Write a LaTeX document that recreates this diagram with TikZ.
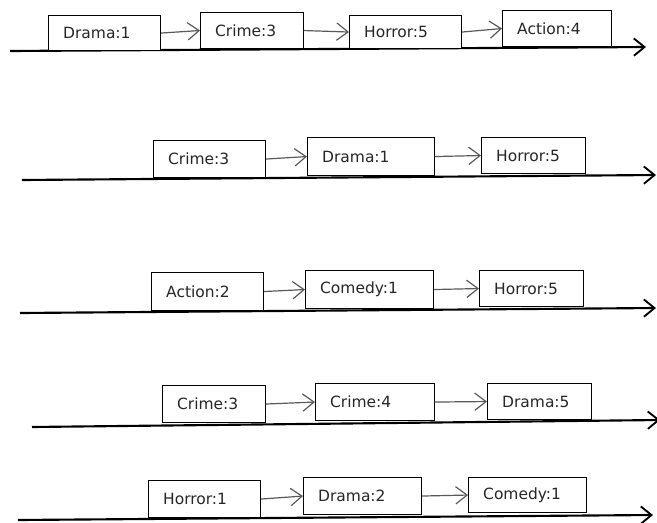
\documentclass[tikz,border=0pt]{standalone}
\usepackage{fontspec}
\setmainfont{DejaVu Sans}
\usetikzlibrary{arrows.meta}
\begin{document}
\begin{tikzpicture}[x=0.75pt,y=-0.75pt,
  box/.style={draw=black, line width=0.8pt, fill=white, anchor=north west, align=left,
    inner xsep=11pt, inner ysep=0pt, font=\fontsize{11.6}{12}\selectfont, text=black!85},
  link/.style={draw=black!65, line width=0.9pt, -{Straight Barb[length=8.5pt,width=13pt,line width=0.9pt]}},
  axis/.style={draw=black, line width=1.6pt, -{Straight Barb[length=8pt,width=13pt,line width=1.4pt]}}]
\useasboundingbox (0,0) rectangle (657,522);
% row 1
\coordinate (s1) at (10,51); \coordinate (e1) at (646,47);
\draw[axis] (s1) -- (e1);
\node[box, text width=62pt, minimum height=26.25pt] (a1) at (48,15) {Drama:1};
\node[box, text width=55pt, minimum height=27pt] (a2) at (200,12) {Crime:3};
\node[box, text width=62pt, minimum height=24.75pt] (a3) at (349,15) {Horror:5};
\node[box, text width=60pt, minimum height=27pt] (a4) at (502,10) {Action:4};
\draw[link] (a1.east) -- (a2.west);
\draw[link] (a2.east) -- (a3.west);
\draw[link] (a3.east) -- (a4.west);
% row 2
\coordinate (s2) at (22,180); \coordinate (e2) at (656,175);
\draw[axis] (s2) -- (e2);
\node[box, text width=62pt, minimum height=27.75pt] (b1) at (153,140) {Crime:3};
\node[box, text width=73pt, minimum height=28.5pt] (b2) at (307,137) {Drama:1};
\node[box, text width=56pt, minimum height=27pt] (b3) at (481,137) {Horror:5};
\draw[link] (b1.east) -- (b2.west);
\draw[link] (b2.east) -- (b3.west);
% row 3
\coordinate (s3) at (20,313); \coordinate (e3) at (656,308);
\draw[axis] (s3) -- (e3);
\node[box, text width=62pt, minimum height=28.5pt] (c1) at (151,272) {Action:2};
\node[box, text width=74pt, minimum height=28.5pt] (c2) at (305,270) {Comedy:1};
\node[box, text width=56pt, minimum height=27pt] (c3) at (479,270) {Horror:5};
\draw[link] (c1.east) -- (c2.west);
\draw[link] (c2.east) -- (c3.west);
% row 4
\coordinate (s4) at (32,427); \coordinate (e4) at (660,420);
\draw[axis] (s4) -- (e4);
\node[box, text width=55pt, minimum height=27.75pt] (d1) at (162,385) {Crime:3};
\node[box, text width=67pt, minimum height=27.75pt] (d2) at (315,383) {Crime:4};
\node[box, text width=56pt, minimum height=27pt] (d3) at (487,383) {Drama:5};
\draw[link] (d1.east) -- (d2.west);
\draw[link] (d2.east) -- (d3.west);
% row 5
\coordinate (s5) at (18,520); \coordinate (e5) at (653,515);
\draw[axis] (s5) -- (e5);
\node[box, text width=62pt, minimum height=27.75pt] (f1) at (148,480) {Horror:1};
\node[box, text width=66.5pt, minimum height=27.75pt] (f2) at (303,477) {Drama:2};
\node[box, text width=66.5pt, minimum height=26.25pt] (f3) at (468,477) {Comedy:1};
\draw[link] (f1.east) -- (f2.west);
\draw[link] (f2.east) -- (f3.west);
\end{tikzpicture}
\end{document}
